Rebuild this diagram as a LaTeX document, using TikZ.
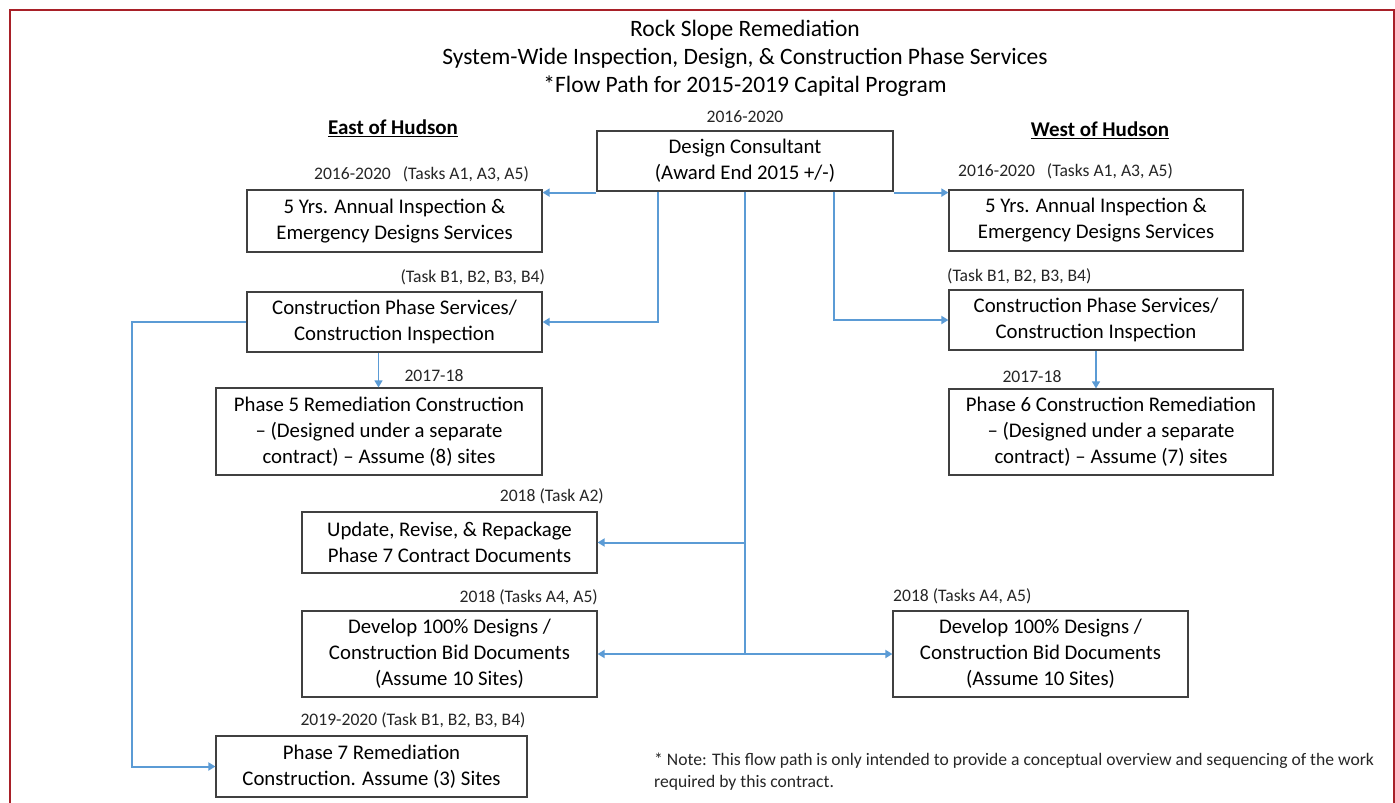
\documentclass[tikz,border=0pt]{standalone}
\usepackage{fontspec}
\setmainfont{Carlito}
\usetikzlibrary{arrows.meta,calc}
\definecolor{flow}{RGB}{91,155,213}
\definecolor{framered}{RGB}{168,32,40}
\definecolor{edgegray}{RGB}{64,64,64}
\tikzset{
 box/.style={draw=edgegray, line width=1.2pt, align=center, inner sep=0pt, font=\fontsize{20.8}{26}\selectfont, text=black},
 lab/.style={font=\fontsize{17.6}{21}\selectfont, inner sep=0pt, text=black!85},
 head/.style={font=\fontsize{21}{24}\selectfont\bfseries, inner sep=0pt},
 conn/.style={draw=flow, line width=2pt},
 arr/.style={conn, -{Triangle[width=8pt,length=7pt]}},
}
\begin{document}
\begin{tikzpicture}[x=1pt,y=-1pt]
\useasboundingbox (0,0) rectangle (1395,803);
\fill[white] (0,0) rectangle (1395,803);
\draw[framered, line width=2.5pt] (10,815) -- (10,10) -- (1394,10) -- (1394,815);

\node[font=\fontsize{23.5}{28}\selectfont, align=center, inner sep=0pt] (title) at (745,58)
 {Rock Slope Remediation\\System-Wide Inspection, Design, \& Construction Phase Services\\*Flow Path for 2015-2019 Capital Program};

\node[head] (east) at (393,128) {\underline{East of Hudson}};
\node[head] (west) at (1100,130) {\underline{West of Hudson}};

\node[box, minimum width=296, minimum height=60] (DC) at (745,161) {Design Consultant\\(Award End 2015 +/-)};
\node[lab] (dcl) at (745,117) {2016-2020};

\node[box, minimum width=295, minimum height=62] (E1) at (394.5,221) {5 Yrs. Annual Inspection \&\\Emergency Designs Services};
\node[box, minimum width=295, minimum height=60] (E2) at (394.5,322) {Construction Phase Services/\\Construction Inspection};
\node[box, minimum width=326, minimum height=87] (E3) at (379,431.5) {Phase 5 Remediation Construction\\-- (Designed under a separate\\contract) -- Assume (8) sites};
\node[box, minimum width=295, minimum height=61] (UP) at (449.5,542.5) {Update, Revise, \& Repackage\\Phase 7 Contract Documents};
\node[box, minimum width=295, minimum height=86] (DL) at (449.5,654) {Develop 100\% Designs /\\Construction Bid Documents\\(Assume 10 Sites)};
\node[box, minimum width=311, minimum height=61] (P7) at (371.5,766.5) {Phase 7 Remediation\\Construction. Assume (3) Sites};

\node[box, minimum width=294, minimum height=61] (W1) at (1096,220.5) {5 Yrs. Annual Inspection \&\\Emergency Designs Services};
\node[box, minimum width=294, minimum height=60] (W2) at (1096,320) {Construction Phase Services/\\Construction Inspection};
\node[box, minimum width=324, minimum height=86] (W3) at (1111,432) {Phase 6 Construction Remediation\\-- (Designed under a separate\\contract) -- Assume (7) sites};
\node[box, minimum width=295, minimum height=86] (DR) at (1040.5,654) {Develop 100\% Designs /\\Construction Bid Documents\\(Assume 10 Sites)};

\node[lab, anchor=east] (e1l) at (529,174) {2016-2020\hspace{12pt}(Tasks A1, A3, A5)};
\node[lab, anchor=east] (e2l) at (545,277) {(Task B1, B2, B3, B4)};
\node[lab] (e3l) at (434,376) {2017-18};
\node[lab, anchor=west] (w1l) at (958,171) {2016-2020\hspace{12pt}(Tasks A1, A3, A5)};
\node[lab, anchor=west] (w2l) at (947,276) {(Task B1, B2, B3, B4)};
\node[lab] (w3l) at (1032,377) {2017-18};
\node[lab, anchor=east] (upl) at (604,496) {2018 (Task A2)};
\node[lab, anchor=east] (dll) at (598,597) {2018 (Tasks A4, A5)};
\node[lab, anchor=west] (drl) at (893,596) {2018 (Tasks A4, A5)};
\node[lab] (p7l) at (413,720) {2019-2020 (Task B1, B2, B3, B4)};
\node[lab, anchor=north west, align=left, font=\fontsize{17.6}{22}\selectfont] (note) at (654,753)
 {* Note: This flow path is only intended to provide a conceptual overview and sequencing of the work\\required by this contract.};

% connectors
\draw[arr] ([yshift=-1]DC.south west) -- ([yshift=-1]DC.south west -| E1.east);
\draw[arr] ([yshift=-1]DC.south east) -- ([yshift=-1]DC.south east -| W1.west);
\draw[arr] ([xshift=62]DC.south west) |- (E2.east);
\draw[arr] ([xshift=-60]DC.south east) |- (W2.west);
\draw[conn] (DC.south) -- (DC.south |- DL.east);
\draw[arr] (DC.south |- UP.east) -- (UP.east);
\draw[arr] (DC.south |- DL.east) -- (DL.east);
\draw[arr] (DC.south |- DL.east) -- (DR.west);
\draw[arr, line width=1.3pt] ([xshift=-16]E2.south) -- ([xshift=-16]E2.south |- E3.north);
\draw[arr, line width=1.3pt] (W2.south) -- (W2.south |- W3.north);
\draw[arr] (E2.west) -- ++(-114,0) |- (P7.west);
\end{tikzpicture}
\end{document}
